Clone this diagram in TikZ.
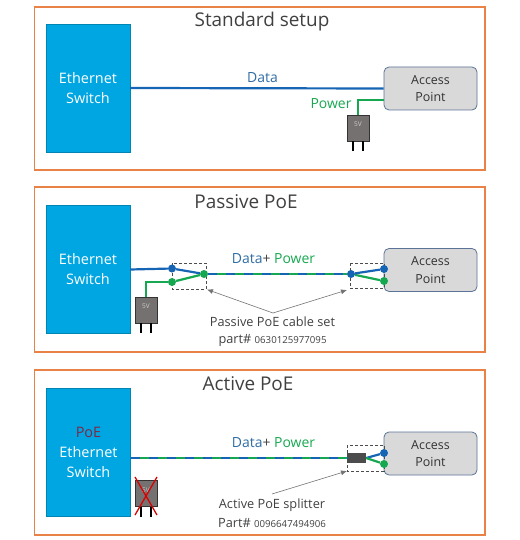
\documentclass[tikz,border=0pt]{standalone}
\usepackage{fontspec}
\setmainfont{Open Sans}
\usepackage{xcolor}
\usetikzlibrary{arrows.meta, positioning}
\definecolor{FrameOrange}{RGB}{232,130,70}
\definecolor{SwitchBlue}{RGB}{0,166,226}
\definecolor{DataBlue}{RGB}{22,100,180}
\definecolor{LabelBlue}{RGB}{46,108,164}
\definecolor{PowerGreen}{RGB}{22,168,80}
\definecolor{ApGray}{RGB}{217,217,217}
\definecolor{ApEdge}{RGB}{90,115,150}
\definecolor{PlugGray}{RGB}{118,113,113}
\definecolor{TextDark}{RGB}{64,64,64}
\definecolor{PoeRed}{RGB}{125,40,70}
\tikzset{
  >=latex,
  % Riquadri e apparati
  panel/.style={draw=FrameOrange,line width=1.1pt},
  switchbox/.style={draw=SwitchBlue!80!black,fill=SwitchBlue,minimum width=84bp,minimum height=128bp,
    align=center,text=white,font=\fontsize{14.5}{20}\selectfont,inner sep=0,
    execute at begin node={\vspace*{4bp}}},
  apbox/.style={draw=ApEdge,fill=ApGray,thick,rounded corners=5bp,minimum width=93bp,minimum height=43bp,
    align=center,text=black!80,font=\fontsize{12.5}{17.5}\selectfont,inner sep=0,
    execute at begin node={\vspace*{3bp}}},
  plug/.style={draw=black!80,fill=PlugGray,minimum width=22bp,minimum height=26bp,inner sep=0,
    text=white!80!black,font=\fontsize{6.5}{7}\selectfont,text depth=7bp},
  splitter/.style={draw=none,fill=black!70,minimum width=19bp,minimum height=10bp,inner sep=0},
  % Connessioni
  data/.style={DataBlue,line width=2.2pt},
  power/.style={PowerGreen,line width=2.2pt},
  shared/.style={DataBlue,line width=2.2pt,dash pattern=on 9bp off 9bp},
  prong/.style={black,line width=1.4pt},
  callout/.style={-{Latex[length=6bp,width=5bp]},black!55,line width=0.6pt},
  dashbox/.style={draw=black!70,dash pattern=on 3bp off 2bp,thin},
  dotdata/.style={circle,fill=DataBlue,inner sep=0,minimum size=8bp},
  dotpower/.style={circle,fill=PowerGreen,inner sep=0,minimum size=8bp},
  % Testi
  heading/.style={text=TextDark,font=\fontsize{19}{22}\selectfont},
  note/.style={text=TextDark,font=\fontsize{12.8}{15}\selectfont},
  wirelabel/.style={font=\fontsize{14}{16}\selectfont}
}
\newcommand{\partno}[1]{{\fontsize{9.7}{11}\selectfont #1}}
\begin{document}
\begin{tikzpicture}[x=1bp,y=-1bp]
  \useasboundingbox (0,0) rectangle (520,540);
  \foreach \top/\bot in {7/170,187/352,370/535} {
    \draw[panel] (34.5,\top) rectangle (485,\bot);
  }

  % Standard setup
  \node[heading] (titleA) at (262,21.5) {Standard setup};
  \node[switchbox] (switchA) at (88,88) {Ethernet\\Switch};
  \node[apbox] (apA) at (430.5,88.5) {Access\\Point};
  \node[plug] (plugA) at (358,128) {5V};
  \coordinate (pwrA) at (384,100);
  \draw[data] (switchA.east) -- (apA.west);
  \draw[power] (pwrA) -| (plugA.north);
  \node[wirelabel,text=LabelBlue] (dataA) at (262.5,78) {Data};
  \node[wirelabel,text=PowerGreen] (powerA) at (331,103.5) {Power};
  \foreach \x in {-5,5} {
    \draw[prong] ([xshift=\x bp]plugA.south) -- ++(0,10);
  }

  % Passive PoE
  \node[heading] (titleB) at (246,202) {Passive PoE};
  \node[switchbox] (switchB) at (88,269.5) {Ethernet\\Switch};
  \node[apbox] (apB) at (430.5,270) {Access\\Point};
  \node[plug] (plugB) at (146,310) {5V};
  \draw[dashbox] (172,263) rectangle (206,289);
  \draw[dashbox] (350,263) rectangle (384,288);
  \node[dotdata] (inB) at (172,268.5) {};
  \node[dotpower] (pwrB) at (172,282) {};
  \node[dotpower] (joinB) at (204,274) {};
  \node[dotdata] (splitB) at (351,274) {};
  \node[dotdata] (outB) at (384,269) {};
  \node[dotpower] (endB) at (384,281) {};
  \draw[data] (switchB.east) -- (inB);
  \draw[data] (inB) -- (joinB);
  \draw[power] (plugB.north) |- (pwrB);
  \draw[power] (pwrB) -- (joinB);
  \draw[power] (joinB) -- (splitB);
  \draw[shared] (joinB) -- (splitB);
  \draw[power] (splitB) -- (endB);
  \draw[data] (splitB) -- (outB);
  \foreach \x in {-5,5} {
    \draw[prong] ([xshift=\x bp]plugB.south) -- ++(0,10);
  }
  \node[wirelabel,text=TextDark] (dataB) at (273.5,258.5) {\textcolor{LabelBlue}{Data}+ \textcolor{PowerGreen}{Power}};
  \node[note] (setB) at (272.5,322) {Passive PoE cable set};
  \node[note] (partB) at (272.5,340) {part\# \partno{0630125977095}};
  \coordinate (forkB) at (273,313);
  \draw[callout] (forkB) -- (207,289.5);
  \draw[callout] (forkB) -- (347,290);

  % Active PoE
  \node[heading] (titleC) at (248,384) {Active PoE};
  \node[switchbox] (switchC) at (88.5,452) {\textcolor{PoeRed}{PoE}\\Ethernet\\Switch};
  \node[apbox] (apC) at (430.5,453.5) {Access\\Point};
  \node[plug] (plugC) at (146,493.5) {5V};
  \draw[dashbox] (347,445) rectangle (384,471);
  \node[splitter] (splitC) at (356.5,458) {};
  \node[dotdata] (outC) at (384,453) {};
  \node[dotpower] (endC) at (384,464) {};
  \draw[power] (switchC.east |- splitC) -- (splitC.west);
  \draw[shared] (switchC.east |- splitC) -- (splitC.west);
  \draw[data] (splitC.east) -- (outC);
  \draw[power] (splitC.east) -- (endC);
  \foreach \x in {-5,5} {
    \draw[prong] ([xshift=\x bp]plugC.south) -- ++(0,10);
  }
  \draw[red!85!black,line width=1.3pt] (135,477) -- (157,515);
  \draw[red!85!black,line width=1.3pt] (157,477) -- (135,515);
  \node[wirelabel,text=TextDark] (dataC) at (273.5,442.5) {\textcolor{LabelBlue}{Data}+ \textcolor{PowerGreen}{Power}};
  \node[note] (setC) at (272,505) {Active PoE splitter};
  \node[note] (partC) at (272,523) {Part\# \partno{0096647494906}};
  \coordinate (forkC) at (272,494);
  \draw[callout] (forkC) -- (347,471);
\end{tikzpicture}
\end{document}
